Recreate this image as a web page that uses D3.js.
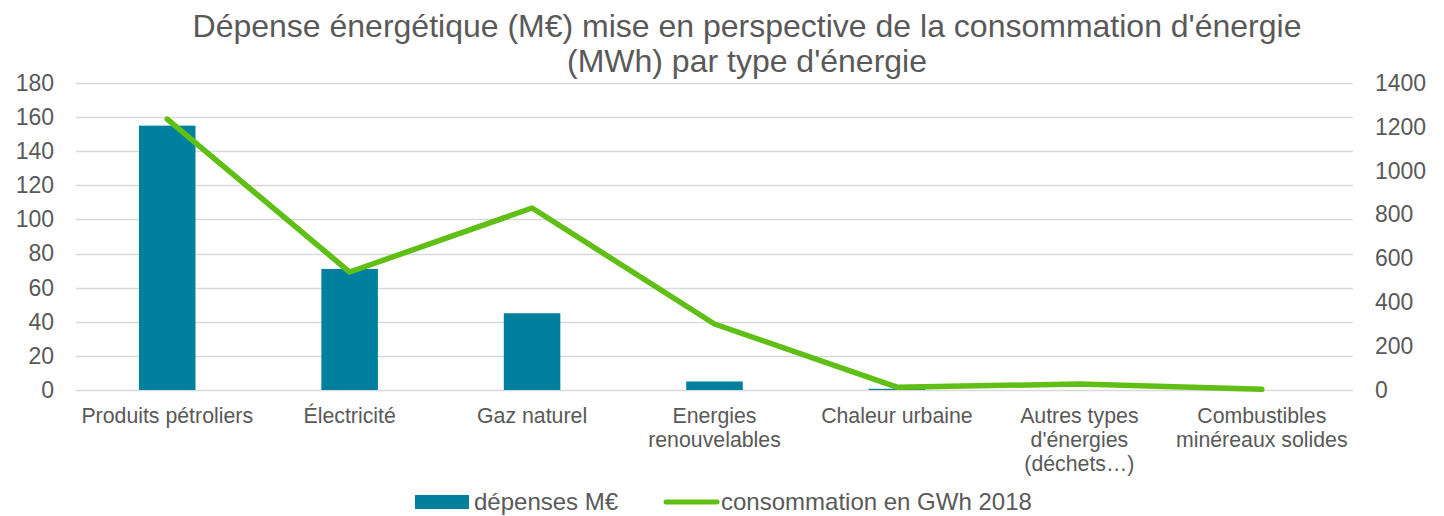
<!DOCTYPE html>
<html>
<head>
<meta charset="utf-8">
<script src="https://cdn.jsdelivr.net/npm/d3@7"></script>
<style>
  body { margin: 0; background: #fff; }
  svg text { font-family: "Liberation Sans", Arial, sans-serif; fill: #595959; }
</style>
</head>
<body>
<svg id="chart" width="1444" height="516"></svg>
<script>
// categories (multi-line labels)
var categories = [
    ["Produits pétroliers"],
    ["Électricité"],
    ["Gaz naturel"],
    ["Energies", "renouvelables"],
    ["Chaleur urbaine"],
    ["Autres types", "d'énergies", "(déchets…)"],
    ["Combustibles", "minéreaux solides"]
];
var depenses = [155, 71, 45, 5, 0.7, 0, 0];
var consommation = [1235, 538, 830, 301, 13, 27, 3];
var leftTicks = [0, 20, 40, 60, 80, 100, 120, 140, 160, 180];
var rightTicks = [0, 200, 400, 600, 800, 1000, 1200, 1400];
var titleLines = ["Dépense énergétique (M€) mise en perspective de la consommation d'énergie", "(MWh) par type d'énergie"];

var svg = d3.select("#chart");
var margin = {top: 83, left: 76, bottom: 126, right: 91};
var width = 1444, height = 516;

var keys = categories.map(d => d.join(" "));

var x = d3.scaleBand()
    .domain(keys)
    .range([margin.left, width - margin.right])
    .paddingInner(0.69)
    .paddingOuter(0.345);

var xc = d3.scalePoint()
    .domain(keys)
    .range([margin.left, width - margin.right])
    .padding(0.5);

var y = d3.scaleLinear().domain([0, 180]).range([height - margin.bottom, margin.top]);
var y2 = d3.scaleLinear().domain([0, 1400]).range([height - margin.bottom, margin.top]);

// title
svg.append("text")
    .attr("text-anchor", "middle")
    .attr("font-size", "32px")
    .selectAll("tspan")
    .data(titleLines)
  .enter().append("tspan")
    .attr("x", 747)
    .attr("y", (d, i) => 37 + i * 35)
    .text(d => d);

// grid
svg.append("g")
    .selectAll("line")
    .data(leftTicks)
  .enter().append("line")
    .attr("x1", margin.left)
    .attr("x2", width - margin.right)
    .attr("y1", d => Math.round(y(d)) + 0.5)
    .attr("y2", d => Math.round(y(d)) + 0.5)
    .attr("stroke", "#d9d9d9")
    .attr("stroke-width", 1.3);

// left axis
var yAxis = svg.append("g")
    .attr("transform", `translate(${margin.left},0)`)
    .call(d3.axisLeft(y).tickValues(leftTicks).tickSize(0).tickPadding(22));
yAxis.select(".domain").remove();
yAxis.selectAll("text").attr("font-size", "23px").attr("font-family", "Liberation Sans, Arial, sans-serif").attr("fill", "#595959");

// right axis
var yAxis2 = svg.append("g")
    .attr("transform", `translate(${width - margin.right},0)`)
    .call(d3.axisRight(y2).tickValues(rightTicks).tickFormat(d3.format("d")).tickSize(0).tickPadding(22));
yAxis2.select(".domain").remove();
yAxis2.selectAll("text").attr("font-size", "23px").attr("font-family", "Liberation Sans, Arial, sans-serif").attr("fill", "#595959");

// bars
svg.selectAll("rect.bar")
    .data(depenses)
  .enter().append("rect")
    .attr("class", "bar")
    .attr("x", (d, i) => x(keys[i]))
    .attr("width", x.bandwidth())
    .attr("y", d => y(d))
    .attr("height", d => y(0) - y(d))
    .attr("fill", "#00809f");

// line
var line = d3.line()
    .x((d, i) => xc(keys[i]))
    .y(d => y2(d));

svg.append("path")
    .datum(consommation)
    .attr("d", line)
    .attr("fill", "none")
    .attr("stroke", "#5fbf14")
    .attr("stroke-width", 5.5)
    .attr("stroke-linecap", "round")
    .attr("stroke-linejoin", "round");

// category labels
var cat = svg.append("g").selectAll("text")
    .data(categories)
  .enter().append("text")
    .attr("text-anchor", "middle")
    .attr("font-size", "21.3px");
cat.selectAll("tspan")
    .data((d, i) => d.map(s => ({s: s, i: i})))
  .enter().append("tspan")
    .attr("x", d => xc(keys[d.i]))
    .attr("y", (d, j) => 423 + j * 24)
    .text(d => d.s);

// legend
var legend = svg.append("g");
legend.append("rect")
    .attr("x", 415).attr("y", 495).attr("width", 54).attr("height", 14)
    .attr("fill", "#00809f");
legend.append("text")
    .attr("x", 474).attr("y", 510).attr("font-size", "24px")
    .text("dépenses M€");
legend.append("line")
    .attr("x1", 666).attr("x2", 717).attr("y1", 502).attr("y2", 502)
    .attr("stroke", "#5fbf14").attr("stroke-width", 5).attr("stroke-linecap", "round");
legend.append("text")
    .attr("x", 721).attr("y", 510).attr("font-size", "24px")
    .text("consommation en GWh 2018");
</script>
</body>
</html>
